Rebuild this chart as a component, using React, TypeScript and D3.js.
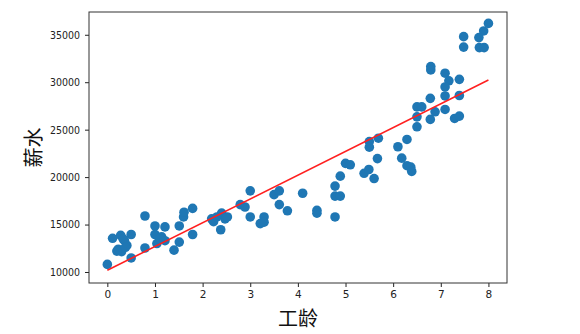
import React, { useRef, useEffect } from 'react';
import * as d3 from 'd3';

// 工龄 (years of work)
const workYears = [
  0.0, 0.11, 0.28, 0.5, 0.36, 0.23, 0.3, 0.41, 0.5, 0.2, 0.33, 0.38,
  0.79, 0.79, 1.0, 1.0, 1.04, 1.21, 1.14, 1.21, 1.1, 1.4, 1.51, 1.51, 1.6, 1.61, 1.79, 1.79,
  2.19, 2.23, 2.38, 2.4, 2.47, 2.52, 2.3, 2.79, 2.89, 3.0, 3.0, 3.21, 3.29, 3.29,
  3.5, 3.61, 3.61, 3.78, 4.1, 4.4, 4.4, 4.78, 4.78, 4.89, 4.78, 4.89,
  5.0, 5.1, 5.39, 5.49, 5.6, 5.67, 5.5, 5.5, 5.69, 6.1, 6.29, 6.18, 6.29, 6.37, 6.39,
  6.5, 6.5, 6.5, 6.6, 6.78, 6.78, 6.88, 6.79, 6.79, 7.09, 7.17, 7.09, 7.09, 7.09,
  7.39, 7.39, 7.29, 7.39, 7.48, 7.48, 7.8, 7.81, 7.91, 7.9, 8.0,
];

// 薪水 (salary)
const salaries = [
  10800, 13550, 13870, 13950, 13300, 12400, 12150, 12800, 11480, 12200, 13500, 12600,
  15900, 12530, 14850, 13950, 13000, 14750, 13700, 13300, 13500, 12300, 13150, 14850, 15800, 16300, 16700, 13950,
  15600, 15300, 14450, 16200, 15600, 15800, 15800, 17100, 16850, 18550, 15800, 15100, 15800, 15250,
  18150, 18550, 17100, 16450, 18300, 16500, 16200, 15800, 18000, 18000, 19050, 20100,
  21450, 21300, 20400, 20800, 19850, 21950, 23750, 23150, 24100, 23200, 23970, 22000, 21200, 21050, 20600,
  25300, 26350, 27400, 27400, 26080, 28300, 26880, 31650, 31300, 30950, 30150, 29500, 28550, 27130,
  30300, 28600, 26180, 26430, 34800, 33700, 34700, 33650, 33650, 35400, 36200,
];

// fitted line end points
const fitX = [0, 8];
const fitY = [10180, 30240];

const xTicks = [0, 1, 2, 3, 4, 5, 6, 7, 8];
const yTicks = [10000, 15000, 20000, 25000, 30000, 35000];

const App: React.FC = () => {
  const ref = useRef<SVGSVGElement | null>(null);

  useEffect(() => {
    if (!ref.current) return;
    const svg = d3.select(ref.current);
    svg.selectAll('*').remove();

    const margin = { top: 12, right: 73, bottom: 51, left: 89 };
    const width = 580;
    const height = 334;

    const x = d3.scaleLinear().domain([-0.385, 8.39]).range([margin.left, width - margin.right]);
    const y = d3.scaleLinear().domain([8840, 37400]).range([height - margin.bottom, margin.top]);

    const tickFont = '"DejaVu Sans", sans-serif';

    // points
    svg.append('g')
      .selectAll('circle')
      .data(workYears.map((d, i) => [d, salaries[i]]))
      .join('circle')
      .attr('cx', d => x(d[0]))
      .attr('cy', d => y(d[1]))
      .attr('r', 4.8)
      .attr('fill', '#1f77b4');

    // regression line
    const line = d3.line<number>()
      .x(d => x(fitX[d]))
      .y(d => y(fitY[d]));
    svg.append('path')
      .datum([0, 1])
      .attr('d', line)
      .attr('fill', 'none')
      .attr('stroke', '#ff2020')
      .attr('stroke-width', 1.6);

    // x axis
    const xAxis = svg.append('g')
      .attr('transform', `translate(0,${height - margin.bottom})`)
      .call(d3.axisBottom(x).tickValues(xTicks).tickFormat(d3.format('d')).tickSize(4).tickPadding(4));
    xAxis.select('.domain').remove();
    xAxis.selectAll('text').attr('font-size', 10.5).attr('font-family', tickFont).attr('fill', '#222');
    xAxis.selectAll('line').attr('stroke', '#222');

    // y axis
    const yAxis = svg.append('g')
      .attr('transform', `translate(${margin.left},0)`)
      .call(d3.axisLeft(y).tickValues(yTicks).tickFormat(d3.format('d')).tickSize(4).tickPadding(5));
    yAxis.select('.domain').remove();
    yAxis.selectAll('text').attr('font-size', 10.5).attr('font-family', tickFont).attr('fill', '#222')
      .attr('textLength', 30).attr('lengthAdjust', 'spacingAndGlyphs');
    yAxis.selectAll('line').attr('stroke', '#222');

    // frame
    svg.append('rect')
      .attr('x', margin.left)
      .attr('y', margin.top)
      .attr('width', width - margin.left - margin.right)
      .attr('height', height - margin.top - margin.bottom)
      .attr('fill', 'none')
      .attr('stroke', '#333')
      .attr('stroke-width', 1);

    // axis labels
    svg.append('text')
      .attr('x', (margin.left + width - margin.right) / 2)
      .attr('y', 326)
      .attr('text-anchor', 'middle')
      .attr('font-family', '"Noto Sans CJK SC", sans-serif')
      .attr('font-size', 20)
      .attr('fill', '#111')
      .text('工龄');

    svg.append('text')
      .attr('transform', `translate(41,${(margin.top + height - margin.bottom) / 2}) rotate(-90)`)
      .attr('text-anchor', 'middle')
      .attr('font-family', '"Noto Sans CJK SC", sans-serif')
      .attr('font-size', 20)
      .attr('fill', '#111')
      .text('薪水');
  }, []);

  return (
    <svg
      ref={ref}
      width={580}
      height={334}
      style={{ position: 'absolute', left: 0, top: 0, background: '#fff' }}
    />
  );
};

export default App;
